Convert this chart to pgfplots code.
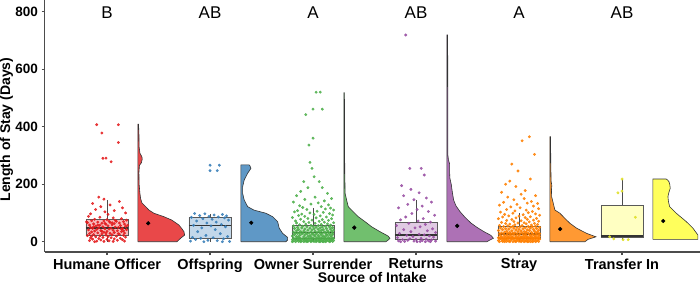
\documentclass[border=0pt]{standalone}
\usepackage{fontspec}
\setmainfont{Liberation Sans}
\usepackage{pgfplots}
\usepackage{pgfplotstable}
\pgfplotsset{compat=1.18}
\definecolor{cR}{HTML}{E41A1C}
\definecolor{cB}{HTML}{377EB8}
\definecolor{cG}{HTML}{4DAF4A}
\definecolor{cP}{HTML}{984EA3}
\definecolor{cO}{HTML}{FF7F00}
\definecolor{cY}{HTML}{FFFF33}
\colorlet{bR}{cR!30!white}
\colorlet{bB}{cB!30!white}
\colorlet{bG}{cG!30!white}
\colorlet{bP}{cP!30!white}
\colorlet{bO}{cO!30!white}
\colorlet{bY}{cY!30!white}
\colorlet{pY}{cY!88!black}

% ---------- jittered points: o = horizontal jitter, v = days ----------
\pgfplotstableread[row sep=\\]{o v\\
-0.10 407\\ 0.11 407\\ -0.05 378\\ 0.11 345\\ -0.04 290\\ -0.01 291\\ 0.04 278\\ -0.08 155\\ -0.03 148\\ 0.12 140\\
-0.14 133\\ 0.03 128\\ -0.06 122\\ 0.15 118\\ -0.11 112\\ 0.07 108\\ -0.02 104\\ 0.18 100\\ -0.16 97\\ 0.01 95\\
-0.18 88\\ -0.07 85\\ 0.06 83\\ 0.14 80\\ -0.12 78\\ 0.00 77\\ 0.19 75\\ -0.15 73\\ -0.03 72\\ 0.09 71\\
0.16 70\\ -0.09 68\\ 0.03 67\\ -0.19 66\\ 0.12 65\\ -0.05 64\\ 0.07 63\\ -0.13 62\\ 0.17 61\\ -0.01 60\\
0.05 59\\ -0.17 58\\ -0.07 57\\ 0.13 56\\ 0.01 55\\ -0.11 54\\ 0.18 53\\ -0.04 52\\ 0.08 51\\ -0.16 50\\
0.11 49\\ -0.08 48\\ 0.04 47\\ -0.14 46\\ 0.15 46\\ -0.02 45\\ 0.02 44\\ -0.10 43\\ 0.19 42\\ -0.18 41\\
0.06 40\\ -0.06 39\\ 0.10 38\\ -0.12 37\\ 0.00 36\\ 0.14 35\\ -0.15 34\\ -0.03 33\\ 0.07 32\\ -0.09 31\\
0.17 30\\ 0.03 29\\ -0.17 28\\ -0.05 27\\ 0.12 26\\ -0.13 25\\ 0.05 24\\ -0.01 23\\ 0.16 22\\ -0.19 21\\
-0.07 20\\ 0.09 19\\ 0.01 18\\ -0.11 17\\ 0.18 16\\ -0.04 15\\ 0.04 14\\ -0.16 13\\ 0.13 12\\ -0.08 11\\
0.07 10\\ -0.14 9\\ 0.00 8\\ 0.15 7\\ -0.06 6\\ 0.10 5\\ -0.17 4\\ 0.02 3\\ -0.10 2\\ 0.17 2\\
-0.03 1\\ 0.06 1\\ -0.12 0\\ 0.08 74\\ -0.20 69\\ 0.20 57\\ -0.02 64\\ 0.02 71\\ -0.13 52\\ 0.14 44\\
-0.05 36\\ 0.11 28\\ -0.15 19\\ 0.05 66\\ -0.09 58\\ 0.16 38\\ -0.01 30\\
}\ptsHO

\pgfplotstableread[row sep=\\]{o v\\
0.00 266\\ 0.09 266\\ 0.00 247\\ 0.07 247\\ -0.15 98\\ -0.05 97\\ 0.12 95\\ 0.04 93\\ -0.10 91\\ 0.16 90\\
-0.01 88\\ 0.08 86\\ -0.18 85\\ 0.14 83\\ -0.07 80\\ 0.02 78\\ 0.18 75\\ -0.13 72\\ 0.06 68\\ -0.03 65\\
0.11 60\\ -0.16 57\\ 0.01 55\\ 0.15 52\\ -0.08 48\\ 0.05 42\\ -0.12 35\\ 0.10 28\\ -0.04 22\\ 0.17 18\\
-0.17 15\\ 0.03 14\\ -0.09 12\\ 0.13 10\\ -0.14 8\\ -0.02 5\\ 0.07 4\\ -0.19 2\\ 0.19 1\\ -0.06 0\\
0.12 0\\
}\ptsOF

\pgfplotstableread[row sep=\\]{o v\\
0.03 520\\ 0.07 520\\ 0.00 461\\ 0.09 461\\ -0.07 442\\ 0.00 360\\ -0.04 336\\ -0.03 276\\ -0.01 255\\ 0.01 226\\
-0.09 209\\ 0.06 209\\ -0.05 188\\ 0.09 188\\ -0.12 175\\ 0.14 168\\ -0.16 160\\ 0.02 155\\ 0.18 150\\ -0.08 147\\
0.11 142\\ -0.19 138\\ 0.05 135\\ -0.02 131\\ 0.15 128\\ -0.13 125\\ 0.08 122\\ -0.10 119\\ 0.17 117\\
0.12 114\\ -0.06 112\\ 0.20 110\\ -0.15 108\\ 0.04 106\\ -0.18 104\\ 0.10 102\\ -0.03 100\\ 0.16 98\\ -0.11 96\\
0.01 95\\ 0.19 93\\ -0.14 91\\ 0.07 90\\ -0.08 88\\ 0.13 86\\ -0.20 84\\ 0.03 83\\ -0.05 81\\ 0.18 80\\
-0.12 78\\ 0.09 77\\ -0.01 75\\ 0.15 74\\ -0.17 72\\ 0.06 71\\ -0.09 70\\ 0.11 68\\ -0.04 67\\ 0.20 66\\
-0.16 65\\ 0.02 64\\ 0.14 62\\ -0.07 61\\ 0.08 60\\ -0.13 59\\ 0.17 58\\ -0.02 57\\ 0.05 56\\ -0.19 55\\
0.12 54\\ -0.10 54\\ 0.00 53\\ 0.16 52\\ -0.06 52\\ 0.09 51\\ -0.15 50\\ 0.03 50\\ 0.19 49\\ -0.11 48\\
0.07 48\\ -0.03 47\\ 0.13 46\\ -0.18 46\\ 0.01 45\\ -0.08 44\\ 0.17 44\\ 0.05 43\\ -0.14 42\\ 0.10 42\\
-0.01 41\\ 0.20 40\\ -0.05 40\\ 0.08 39\\ -0.16 38\\ 0.14 38\\ -0.09 37\\ 0.02 36\\ 0.18 36\\ -0.12 35\\
0.06 35\\ -0.02 34\\ 0.11 34\\ -0.19 33\\ 0.15 33\\ -0.07 32\\ 0.04 32\\ -0.13 31\\ 0.12 31\\ -0.04 30\\
0.09 30\\ -0.17 30\\ 0.19 30\\ 0.00 30\\ -0.10 30\\
0.07 29\\ -0.15 29\\ 0.16 28\\ -0.06 28\\ 0.03 27\\ -0.11 27\\ 0.13 26\\ -0.01 26\\ 0.19 25\\ -0.18 25\\
0.08 24\\ -0.08 24\\ 0.01 23\\ 0.14 23\\ -0.13 22\\ 0.05 22\\ -0.03 21\\ 0.17 21\\ -0.20 20\\ 0.10 20\\
-0.05 19\\ 0.02 19\\ 0.12 18\\ -0.16 18\\ 0.06 17\\ -0.09 17\\ 0.18 16\\ -0.02 16\\ 0.09 15\\ -0.14 15\\
0.04 14\\ 0.15 14\\ -0.07 13\\ 0.00 13\\ -0.19 12\\ 0.11 12\\ -0.04 12\\ 0.20 11\\ -0.12 11\\ 0.07 11\\
0.03 10\\ -0.10 10\\ 0.16 10\\ -0.17 10\\ 0.13 10\\ -0.01 10\\ 0.08 10\\ -0.06 10\\ 0.19 10\\ -0.14 10\\
0.05 9\\ -0.18 9\\ 0.12 9\\ -0.03 9\\ 0.17 8\\ -0.09 8\\ 0.02 8\\ -0.15 8\\ 0.10 7\\ -0.06 7\\
0.14 7\\ -0.20 7\\ 0.06 6\\ -0.01 6\\ 0.18 6\\ -0.12 6\\ 0.03 5\\ -0.08 5\\ 0.11 5\\ -0.16 5\\
0.20 4\\ -0.04 4\\ 0.08 4\\ -0.13 4\\ 0.15 3\\ -0.02 3\\ 0.04 3\\ -0.19 3\\ 0.13 2\\ -0.07 2\\
0.00 2\\ -0.11 2\\ 0.17 2\\ 0.09 1\\ -0.14 1\\ 0.01 1\\ -0.05 1\\ 0.19 1\\ 0.07 0\\ -0.17 0\\
0.12 0\\ -0.09 0\\ 0.03 0\\ -0.02 0\\ 0.16 0\\ -0.12 0\\ 0.06 0\\ -0.20 0\\ 0.10 0\\ -0.06 0\\
}\ptsOS

\pgfplotstableread[row sep=\\]{o v\\
-0.10 719\\ -0.06 255\\ 0.05 255\\ 0.08 232\\ -0.14 195\\ -0.05 182\\ 0.03 170\\ -0.12 160\\ 0.10 152\\ -0.02 146\\
0.15 138\\ -0.08 130\\ 0.06 124\\ -0.17 118\\ 0.01 112\\ 0.12 105\\ -0.04 98\\ 0.18 92\\ -0.10 86\\ 0.07 80\\
-0.15 76\\ 0.02 72\\ 0.14 68\\ -0.07 64\\ 0.09 60\\ -0.19 56\\ 0.04 52\\ -0.01 48\\ 0.16 45\\ -0.12 42\\
0.11 38\\ -0.05 35\\ 0.19 32\\ -0.16 29\\ 0.03 26\\ 0.08 24\\ -0.09 22\\ 0.13 20\\ -0.03 18\\ 0.17 16\\
-0.18 14\\ 0.05 12\\ -0.06 10\\ 0.10 9\\ 0.00 8\\ -0.13 7\\ 0.15 6\\ -0.08 5\\ 0.06 4\\ -0.17 3\\
0.12 3\\ -0.02 2\\ 0.19 2\\ -0.11 1\\ 0.04 1\\ 0.09 0\\ -0.15 0\\ 0.01 0\\ 0.14 0\\
}\ptsRE

\pgfplotstableread[row sep=\\]{o v\\
0.10 365\\ 0.03 351\\ 0.15 304\\ -0.07 270\\ -0.01 246\\ 0.11 218\\ -0.09 211\\ -0.13 200\\ -0.03 192\\ 0.06 178\\
-0.17 172\\ 0.02 165\\ 0.16 160\\ -0.11 155\\ 0.05 150\\ -0.05 146\\ 0.12 140\\ -0.15 137\\ 0.08 134\\ 0.18 133\\
-0.02 130\\ -0.19 127\\ 0.14 124\\ -0.08 121\\ 0.01 118\\ 0.19 115\\ -0.12 112\\ 0.07 110\\ -0.04 107\\ 0.13 105\\
-0.18 103\\ 0.09 101\\
-0.06 99\\ 0.16 97\\ -0.14 95\\ 0.04 94\\ 0.20 92\\ -0.10 90\\ 0.00 89\\ 0.11 87\\ -0.16 86\\ 0.06 84\\
-0.03 83\\ 0.17 81\\ -0.20 80\\ 0.08 78\\ -0.07 77\\ 0.14 75\\ -0.12 74\\ 0.02 73\\ 0.19 71\\ -0.05 70\\
0.10 69\\ -0.17 67\\ 0.05 66\\ -0.01 65\\ 0.15 64\\ -0.13 63\\ 0.07 62\\ -0.09 61\\ 0.18 60\\ -0.04 59\\
0.12 58\\ -0.19 57\\ 0.03 56\\ -0.11 55\\ 0.16 54\\ -0.06 54\\ 0.09 53\\ -0.15 53\\ 0.01 52\\ 0.13 52\\
-0.08 51\\ 0.20 50\\ -0.02 50\\ 0.06 49\\ -0.18 48\\ 0.11 48\\ -0.05 47\\ 0.17 46\\ -0.13 45\\ 0.04 45\\
-0.10 44\\ 0.14 43\\ 0.00 43\\ -0.16 42\\ 0.08 41\\ -0.03 41\\ 0.19 40\\ -0.20 39\\ 0.10 39\\ -0.07 38\\
0.02 37\\ 0.15 37\\ -0.12 36\\ 0.05 35\\ -0.01 35\\ 0.18 34\\ -0.14 33\\ 0.07 33\\ -0.09 32\\ 0.12 32\\
-0.04 31\\ 0.16 31\\ -0.17 30\\ 0.03 30\\ 0.09 29\\ -0.06 29\\ 0.20 28\\ -0.11 28\\ 0.01 28\\ 0.13 27\\
-0.19 27\\ 0.06 27\\ -0.02 27\\ 0.17 27\\ -0.08 27\\
0.10 26\\ -0.15 26\\ 0.04 25\\ -0.05 25\\ 0.14 24\\ -0.12 24\\ 0.00 23\\ 0.19 23\\ -0.09 22\\ 0.07 22\\
-0.18 21\\ 0.11 21\\ -0.03 20\\ 0.16 20\\ -0.14 19\\ 0.05 19\\ -0.07 18\\ 0.20 18\\ 0.02 17\\ -0.11 17\\
0.12 17\\ -0.01 16\\ -0.17 16\\ 0.08 16\\ 0.15 15\\ -0.06 15\\ 0.03 15\\ -0.20 14\\ 0.09 14\\ -0.10 14\\
0.18 14\\ -0.04 13\\ 0.13 13\\ -0.16 13\\ 0.06 14\\ 0.01 14\\ -0.13 14\\ 0.17 13\\ -0.08 13\\ 0.10 13\\
-0.02 12\\ 0.14 12\\ -0.19 12\\ 0.04 12\\ -0.06 11\\ 0.19 11\\ -0.12 11\\ 0.07 10\\ 0.00 10\\ -0.15 10\\
0.11 12\\ -0.09 12\\ 0.16 12\\ -0.03 11\\ 0.05 11\\ -0.18 11\\ 0.13 10\\ -0.07 10\\ 0.02 10\\ 0.20 9\\
-0.14 9\\ 0.08 9\\ -0.01 8\\ 0.15 8\\ -0.11 8\\ 0.04 7\\ -0.17 7\\ 0.10 7\\ -0.05 6\\ 0.18 6\\
-0.13 6\\ 0.01 5\\ 0.12 5\\ -0.08 5\\ -0.20 4\\ 0.07 4\\ -0.02 4\\ 0.17 3\\ -0.15 3\\ 0.03 3\\
0.14 2\\ -0.10 2\\ 0.06 2\\ -0.04 2\\ 0.19 1\\ -0.16 1\\ 0.09 1\\ 0.00 1\\ -0.12 1\\ 0.13 0\\
-0.06 0\\ 0.05 0\\ -0.19 0\\ 0.16 0\\ -0.09 0\\ 0.02 0\\ -0.14 0\\ 0.11 0\\ -0.03 0\\ 0.08 0\\
}\ptsST

\pgfplotstableread[row sep=\\]{o v\\
0.00 218\\ -0.04 170\\ 0.00 176\\ 0.13 85\\ -0.12 17\\ -0.08 10\\ 0.01 7\\ 0.06 7\\
}\ptsTI

% ---------- half-violin outlines: v = days, w = half width in px (1 unit = 103 px) ----------
\pgfplotstableread[row sep=\\]{v w\\
0 0\\ 0 39\\ 12 42.7\\ 23 46.7\\ 35 46\\ 45 44\\ 58 41\\ 75 34\\ 87 26\\ 99 16\\ 110 11\\ 122 7.7\\ 135 4\\ 150 2.7\\
168 2\\ 200 1.2\\ 240 1\\ 265 1.5\\ 275 3.5\\ 287 4.3\\ 295 4\\ 308 2\\ 330 1.2\\ 380 1\\ 409 0.6\\ 409 0\\ 0 0\\
}\vioHO
\pgfplotstableread[row sep=\\]{v w\\
0 0\\ 0 45\\ 6 46.7\\ 15 46.7\\ 29 41.7\\ 47 38.3\\ 70 36.7\\ 87 31.7\\ 99 25\\ 110 13\\ 122 6.7\\ 145 3.3\\ 168 1.7\\
191 1.7\\ 215 3.3\\ 238 6.7\\ 255 10\\ 264 9\\ 267 8.3\\ 267 0\\ 0 0\\
}\vioOF
\pgfplotstableread[row sep=\\]{v w\\
0 0\\ 0 42\\ 8 45\\ 12 46\\ 20 44\\ 35 36\\ 52 27.7\\ 70 21\\ 87 14.3\\ 104 9.3\\ 122 4.3\\ 145 2.7\\ 168 1.2\\
250 0.8\\ 400 0.6\\ 518 0.5\\ 518 0\\ 0 0\\
}\vioOS
\pgfplotstableread[row sep=\\]{v w\\
0 0\\ 0 40\\ 4 42\\ 12 46.5\\ 22 44\\ 35 37\\ 50 30\\ 65 24\\ 85 18\\ 105 13\\ 125 9\\ 145 6.7\\ 170 5.5\\ 200 4.3\\
220 3\\ 240 2.7\\ 270 2.7\\ 285 1.5\\ 300 1\\ 500 0.9\\ 719 0.7\\ 719 0\\ 0 0\\
}\vioRE
\pgfplotstableread[row sep=\\]{v w\\
0 0\\ 0 35\\ 8 38\\ 17 46\\ 29 36.7\\ 47 26.7\\ 64 20\\ 81 15\\ 99 10\\ 110 5\\ 134 3.3\\ 157 1.7\\ 180 1.5\\
195 1.9\\ 210 1.2\\ 260 0.9\\ 365 0.6\\ 365 0\\ 0 0\\
}\vioST
\pgfplotstableread[row sep=\\]{v w\\
8 0\\ 8 45\\ 23 45\\ 47 40\\ 70 33.3\\ 99 23.3\\ 122 16.7\\ 140 15.5\\ 157 15\\ 172 16\\ 186 17.3\\ 200 16.8\\ 209 16\\
215 14.5\\ 218 13.3\\ 218 0\\ 8 0\\
}\vioTI

\begin{document}
\begin{tikzpicture}
\begin{axis}[
  scale only axis, width=655.5pt, height=252pt,
  xmin=0.393, xmax=6.757, ymin=-35.8, ymax=840.7,
  axis lines*=left,
  axis line style={draw=black!70, line width=1.1pt},
  tick style={draw=black!70, line width=1.1pt},
  tick align=outside, major tick length=3pt,
  xtick={1,2,3,4,5,6},
  xticklabels={Humane Officer,Offspring,Owner Surrender,Returns,Stray,Transfer In},
  ytick={0,200,400,600,800},
  /pgf/number format/assume math mode=true,
  x tick label style={font=\bfseries\fontsize{14.5}{16}\selectfont, text=black},
  y tick label style={font=\bfseries\fontsize{13.5}{16}\selectfont, text=black},
  every axis x label/.style={at={(axis description cs:0.5,0)}, anchor=center, yshift=-25pt},
  every axis y label/.style={at={(axis description cs:-0.058,0.486)}, rotate=90, anchor=center},
  label style={font=\bfseries\fontsize{14}{16}\selectfont},
  xlabel={Source of Intake},
  ylabel={Length of Stay (Days)},
  clip=false,
]
% half violins
\addplot[draw=black!80, line width=0.6pt, fill=cR, fill opacity=0.8] table[x expr=1.30+\thisrow{w}/103, y=v] {\vioHO};
\addplot[draw=black!80, line width=0.6pt, fill=cB, fill opacity=0.8] table[x expr=2.30+\thisrow{w}/103, y=v] {\vioOF};
\addplot[draw=black!80, line width=0.6pt, fill=cG, fill opacity=0.8] table[x expr=3.30+\thisrow{w}/103, y=v] {\vioOS};
\addplot[draw=black!80, line width=0.6pt, fill=cP, fill opacity=0.8] table[x expr=4.30+\thisrow{w}/103, y=v] {\vioRE};
\addplot[draw=black!80, line width=0.6pt, fill=cO, fill opacity=0.8] table[x expr=5.30+\thisrow{w}/103, y=v] {\vioST};
\addplot[draw=black!80, line width=0.6pt, fill=cY, fill opacity=0.8] table[x expr=6.30+\thisrow{w}/103, y=v] {\vioTI};
% boxes (quartiles) and whiskers
\addplot[draw=black!65, line width=0.8pt, fill=bR] coordinates {(0.795,23) (1.205,23) (1.205,76) (0.795,76) (0.795,23)};
\addplot[draw=black!65, line width=0.8pt, fill=bB] coordinates {(1.795,13) (2.205,13) (2.205,85) (1.795,85) (1.795,13)};
\addplot[draw=black!65, line width=0.8pt, fill=bG] coordinates {(2.795,12) (3.205,12) (3.205,56) (2.795,56) (2.795,12)};
\addplot[draw=black!65, line width=0.8pt, fill=bP] coordinates {(3.795,7) (4.205,7) (4.205,66) (3.795,66) (3.795,7)};
\addplot[draw=black!65, line width=0.8pt, fill=bO] coordinates {(4.795,13) (5.205,13) (5.205,52) (4.795,52) (4.795,13)};
\addplot[draw=black!65, line width=0.8pt, fill=bY] coordinates {(5.795,14) (6.205,14) (6.205,126) (5.795,126) (5.795,14)};
\addplot[draw=black!70, line width=0.8pt] coordinates {(1,76) (1,145)};
\addplot[draw=black!70, line width=0.8pt] coordinates {(1,23) (1,0)};
\addplot[draw=black!70, line width=0.8pt] coordinates {(2,85) (2,98)};
\addplot[draw=black!70, line width=0.8pt] coordinates {(2,13) (2,0)};
\addplot[draw=black!70, line width=0.8pt] coordinates {(3,56) (3,117)};
\addplot[draw=black!70, line width=0.8pt] coordinates {(3,12) (3,0)};
\addplot[draw=black!70, line width=0.8pt] coordinates {(4,66) (4,146)};
\addplot[draw=black!70, line width=0.8pt] coordinates {(4,7) (4,0)};
\addplot[draw=black!70, line width=0.8pt] coordinates {(5,52) (5,101)};
\addplot[draw=black!70, line width=0.8pt] coordinates {(5,13) (5,0)};
\addplot[draw=black!70, line width=0.8pt] coordinates {(6,126) (6,218)};
\addplot[draw=black!70, line width=0.8pt] coordinates {(6,14) (6,7)};
% medians
\addplot[draw=black!80, line width=1.6pt] coordinates {(0.795,47) (1.205,47)};
\addplot[draw=black!80, line width=1.6pt] coordinates {(1.795,56) (2.205,56)};
\addplot[draw=black!80, line width=1.6pt] coordinates {(2.795,32) (3.205,32)};
\addplot[draw=black!80, line width=1.6pt] coordinates {(3.795,23) (4.205,23)};
\addplot[draw=black!80, line width=1.6pt] coordinates {(4.795,27) (5.205,27)};
\addplot[draw=black!80, line width=1.6pt] coordinates {(5.795,19) (6.205,19)};
% jittered points
\addplot[only marks, mark=*, mark size=1.25pt, color=cR, opacity=0.85, mark options={draw=none, fill=cR}] table[x expr=1+\thisrow{o}, y=v] {\ptsHO};
\addplot[only marks, mark=*, mark size=1.25pt, color=cB, opacity=0.85, mark options={draw=none, fill=cB}] table[x expr=2+\thisrow{o}, y=v] {\ptsOF};
\addplot[only marks, mark=*, mark size=1.25pt, color=cG, opacity=0.85, mark options={draw=none, fill=cG}] table[x expr=3+\thisrow{o}, y=v] {\ptsOS};
\addplot[only marks, mark=*, mark size=1.25pt, color=cP, opacity=0.85, mark options={draw=none, fill=cP}] table[x expr=4+\thisrow{o}, y=v] {\ptsRE};
\addplot[only marks, mark=*, mark size=1.25pt, color=cO, opacity=0.85, mark options={draw=none, fill=cO}] table[x expr=5+\thisrow{o}, y=v] {\ptsST};
\addplot[only marks, mark=*, mark size=1.25pt, color=pY, opacity=0.9, mark options={draw=none, fill=pY}] table[x expr=6+\thisrow{o}, y=v] {\ptsTI};
% means
\addplot[only marks, mark=*, mark size=1.9pt, color=black, mark options={fill=black}] coordinates {(1.40,64) (2.40,66) (3.40,49) (4.40,55) (5.40,44) (6.40,72)};
% group letters
\node[font=\fontsize{17}{17}\selectfont] at (axis cs:1,798) {B};
\node[font=\fontsize{17}{17}\selectfont] at (axis cs:2,798) {AB};
\node[font=\fontsize{17}{17}\selectfont] at (axis cs:3,798) {A};
\node[font=\fontsize{17}{17}\selectfont] at (axis cs:4,798) {AB};
\node[font=\fontsize{17}{17}\selectfont] at (axis cs:5,798) {A};
\node[font=\fontsize{17}{17}\selectfont] at (axis cs:6,798) {AB};
\end{axis}
\pgfresetboundingbox
\path[use as bounding box] (-44.5pt,-32pt) rectangle (655.5pt,252pt);
\end{tikzpicture}
\end{document}
